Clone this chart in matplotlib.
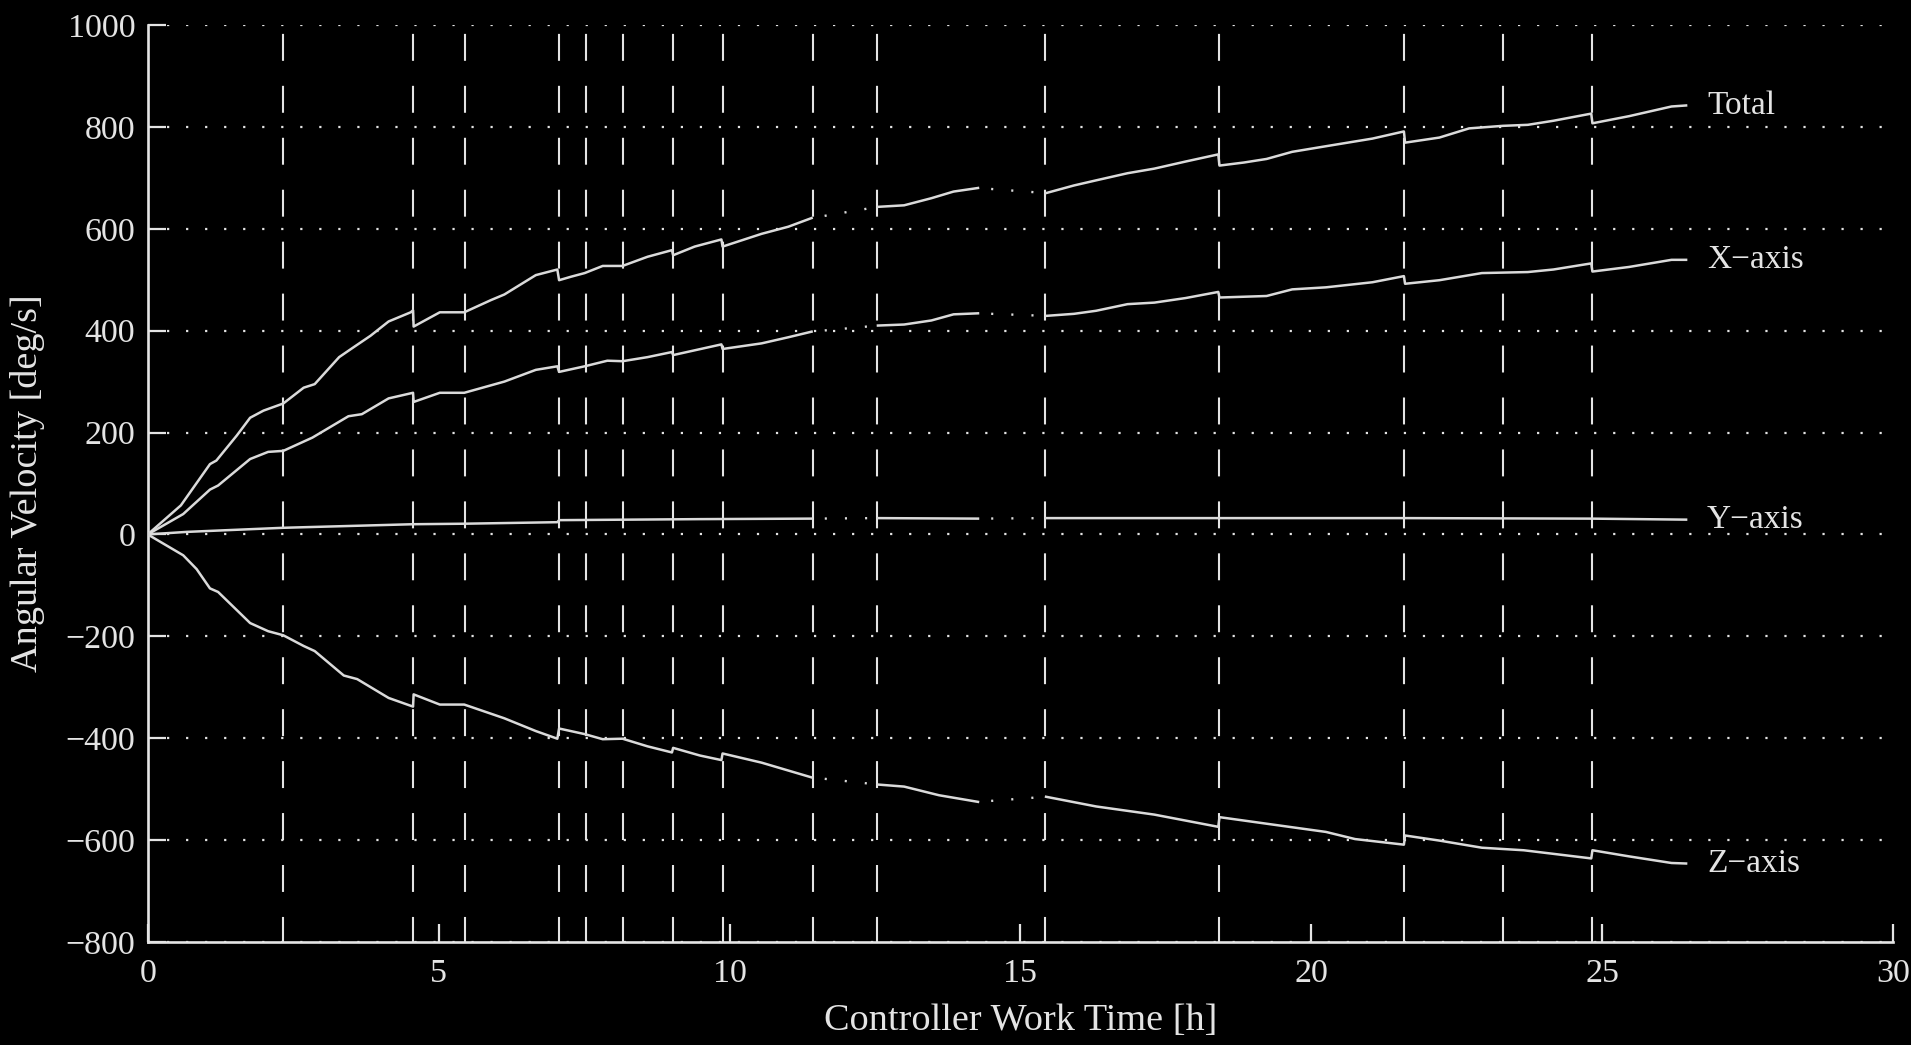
import numpy as np
import matplotlib
matplotlib.use("Agg")
import matplotlib.pyplot as plt

plt.rcParams['font.family'] = ['Liberation Serif', 'DejaVu Serif']
plt.rcParams['lines.scale_dashes'] = False

# times [h] of the controller events (vertical dashed lines)
events = [2.33, 4.56, 5.45, 7.07, 7.54, 8.17, 9.03, 9.88, 11.43, 12.54,
          15.43, 18.42, 21.60, 23.29, 24.83]

# curves, nan = no data (drawn as sparse dots)
t_total = [0, 0.57, 1.07, 1.18, 1.53, 1.76, 1.99, 2.33, 2.68, 2.87,
           3.29, 3.52, 3.83, 4.14, 4.52, 4.56, 4.57, 5.02, 5.44, 5.9,
           6.13, 6.67, 7.04, 7.07, 7.28, 7.51, 7.82, 8.16, 8.59, 9.01,
           9.03, 9.4, 9.86, 9.88, 10.55, 11.01, 11.41, np.nan, 12.55, 13.0,
           13.47, 13.85, 14.27, np.nan, 15.44, 15.92, 16.3, 16.84, 17.3, 17.84,
           18.40, 18.42, 18.84, 19.23, 19.67, 20.25, 21.05, 21.59, 21.61, 22.2,
           22.71, 23.29, 23.72, 24.16, 24.81, 24.83, 25.46, 26.19, 26.44]
v_total = [0, 57, 138, 145, 194, 229, 243, 257, 288, 295,
           348, 366, 390, 418, 436, 440, 408, 436, 436, 460,
           471, 509, 520, 499, 506, 513, 527, 527, 545, 558,
           548, 565, 579, 565, 590, 604, 621, np.nan, 643, 646,
           660, 673, 680, np.nan, 670, 685, 695, 709, 718, 732,
           746, 724, 730, 737, 751, 762, 777, 791, 769, 779,
           797, 802, 804, 812, 826, 807, 821, 840, 842]

t_x = [0, 0.61, 1.07, 1.21, 1.76, 2.07, 2.33, 2.83, 3.45, 3.68,
       4.14, 4.56, 4.57, 5.02, 5.44, 6.13, 6.67, 7.04, 7.07, 7.51,
       7.9, 8.16, 8.59, 9.01, 9.03, 9.86, 9.88, 10.55, 11.01, 11.41,
       np.nan, 12.55, 13.0, 13.47, 13.85, 14.27,
       np.nan, 15.44, 15.92, 16.3, 16.84, 17.3, 17.84, 18.40, 18.42,
       19.23, 19.67, 20.25, 21.05, 21.59, 21.61, 22.2, 22.93, 23.72, 24.16,
       24.81, 24.83, 25.46, 26.19, 26.44]
v_x = [0, 40, 88, 96, 148, 162, 164, 190, 232, 236,
       267, 278, 260, 278, 278, 300, 323, 330, 319, 330,
       341, 340, 348, 358, 352, 373, 364, 375, 387, 398,
       np.nan, 410, 412, 420, 432, 434,
       np.nan, 429, 433, 439, 452, 455, 464, 476, 465,
       468, 481, 485, 495, 507, 492, 499, 513, 515, 520,
       532, 516, 525, 539, 539]

t_y = [0, 0.68, 2.33, 4.56, 5.44, 7.04, 7.07, 9.49, 11.41, np.nan,
       12.55, 14.27, np.nan, 15.44, 18.4, 21.6, 24.8, 26.44]
v_y = [0, 5, 13, 20, 21, 24, 28, 30, 31, np.nan,
       32, 31, np.nan, 32, 32, 32, 31, 29]

t_z = [0, 0.61, 0.84, 1.07, 1.21, 1.76, 2.07, 2.33, 2.68, 2.87,
       3.37, 3.6, 4.14, 4.56, 4.57, 5.02, 5.44, 6.13, 6.67, 7.04,
       7.07, 7.51, 7.82, 8.16, 8.59, 9.01, 9.03, 9.49, 9.86, 9.88,
       10.55, 11.41, np.nan, 12.55, 13.0, 13.6, 14.27, np.nan, 15.44, 16.3,
       17.3, 18.40, 18.42, 19.3, 20.25, 20.75, 21.59, 21.61, 22.2, 22.93,
       23.65, 24.81, 24.83, 25.46, 26.19, 26.44]
v_z = [0, -41, -68, -106, -113, -174, -190, -198, -219, -229,
       -277, -284, -321, -338, -314, -334, -334, -361, -386, -401,
       -381, -392, -402, -401, -416, -428, -419, -434, -443, -430,
       -448, -477, np.nan, -491, -495, -512, -525, np.nan, -515, -534,
       -550, -574, -555, -569, -584, -598, -609, -591, -601, -615,
       -620, -636, -620, -632, -645, -646]

names = ['Total', 'X\u2212axis', 'Y\u2212axis', 'Z\u2212axis']

fg = '#e4e4e4'
line_c = '#dadada'

fig = plt.figure(figsize=(19.11, 10.45), dpi=100, facecolor='black')
ax = fig.add_axes([0.0773, 0.0986, 0.9134, 0.8775], facecolor='black')

ax.set_xlim(0, 30)
ax.set_ylim(-800, 1000)
ax.set_xticks(np.arange(0, 31, 5))
ax.set_yticks(np.arange(-800, 1001, 200))

# horizontal dotted grid
ax.yaxis.grid(True, linestyle=(0, (1.6, 12.1)), color=fg, lw=1.6, zorder=1)
ax.set_axisbelow(True)

# event markers
for e in events:
    ax.plot([e, e], [1000, -800], color=fg, lw=1.5,
            linestyle=(31, (19.4, 18.0)), zorder=2, clip_on=False)

for t, v, name in zip([t_total, t_x, t_y, t_z], [v_total, v_x, v_y, v_z], names):
    t = np.array(t)
    v = np.array(v)
    ax.plot(t, v, color=line_c, lw=1.8, zorder=3)
    for g in np.where(np.isnan(v))[0]:
        ax.plot([t[g - 1], t[g + 1]], [v[g - 1], v[g + 1]], color=line_c, lw=1.7,
                linestyle=(5, (1.5, 13.0)), zorder=3)
    ax.text(26.8, v[-1], name, color=fg, fontsize=24, va='center', ha='left')

for s in ['top', 'right']:
    ax.spines[s].set_visible(False)
for s in ['left', 'bottom']:
    ax.spines[s].set_color(fg)
    ax.spines[s].set_linewidth(1.9)

ax.tick_params(direction='in', length=13, width=1.6, color=fg, labelcolor=fg,
               labelsize=24.5)
ax.tick_params(axis='x', pad=12)
ax.tick_params(axis='y', pad=9)

ax.set_xlabel('Controller Work Time [h]', color=fg, fontsize=27.5, labelpad=10)
ax.set_ylabel('Angular Velocity [deg/s]', color=fg, fontsize=27.5, labelpad=15)

fig.savefig('out.png', dpi=100, facecolor='black')
